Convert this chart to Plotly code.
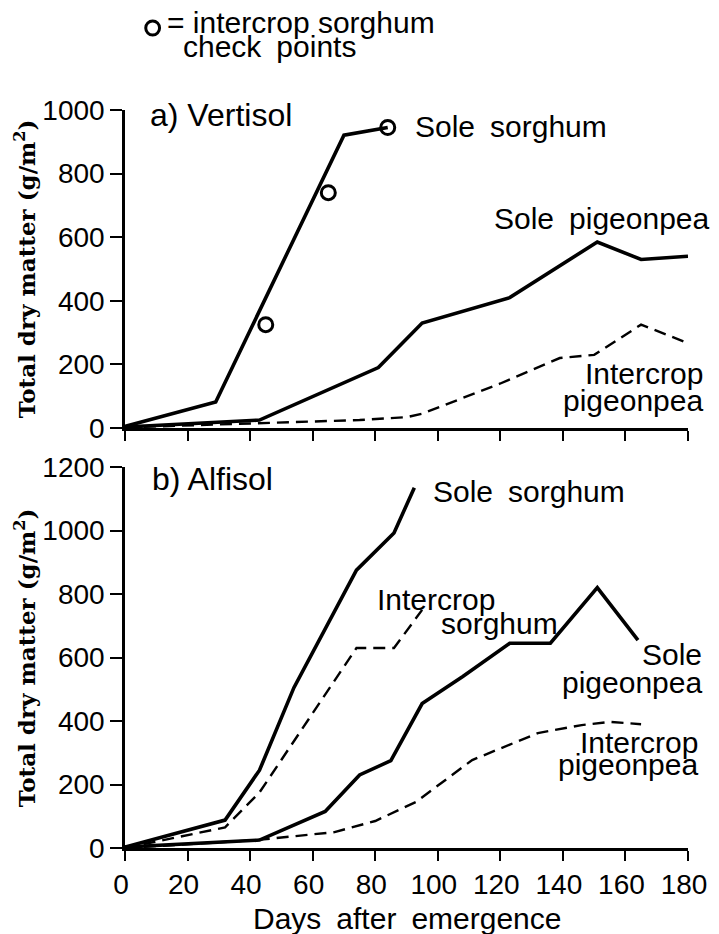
import plotly.graph_objects as go

# ---- Vertisol (panel a) ----
vert_sole_sorghum_days = [0, 29, 70, 84]
vert_sole_sorghum = [5, 82, 921, 945]
vert_check_days = [45, 65, 84]
vert_check = [325, 740, 945]
vert_sole_pp_days = [0, 43, 81, 95, 123, 151, 165, 180]
vert_sole_pp = [3, 25, 190, 330, 410, 585, 530, 540]
vert_inter_pp_days = [0, 20, 45, 75, 90, 95, 120, 139, 150, 165, 180]
vert_inter_pp = [2, 8, 15, 25, 34, 45, 140, 220, 230, 325, 267]

# ---- Alfisol (panel b) ----
alf_sole_sorghum_days = [0, 32, 43, 54, 74, 86, 92.5]
alf_sole_sorghum = [3, 88, 245, 505, 875, 992, 1135]
alf_inter_sorghum_days = [0, 32, 43, 74, 86, 95]
alf_inter_sorghum = [0, 65, 175, 630, 630, 750]
alf_sole_pp_days = [0, 43, 64, 75, 85, 95, 108, 123, 136, 151, 164]
alf_sole_pp = [3, 25, 115, 230, 275, 455, 540, 645, 645, 820, 655]
alf_inter_pp_days = [0, 42, 67, 80, 93, 111, 132, 146, 155, 165]
alf_inter_pp = [0, 25, 50, 85, 145, 277, 362, 387, 397, 390]

x_ticks = [0, 20, 40, 60, 80, 100, 120, 140, 160, 180]

W, H = 719, 934
ML, MR, MT, MB = 125, 24, 110, 86
PW, PH = W - ML - MR, H - MT - MB

SANS = "Liberation Sans, Arial, sans-serif"
SERIF = "DejaVu Serif, serif"
EN = "\u2002"

SOLID = dict(color="black", width=3.6)
DASHED = dict(color="black", width=2.4, dash="12px,7px")


def paper(px, py):
    return (px - ML) / PW, (MT + PH - py) / PH


fig = go.Figure()


def add_line(x, y, line, axis):
    fig.add_trace(go.Scatter(x=x, y=y, mode="lines", line=line,
                             xaxis="x" + axis, yaxis="y" + axis,
                             showlegend=False, hoverinfo="skip"))


add_line(vert_sole_sorghum_days, vert_sole_sorghum, SOLID, "")
add_line(vert_sole_pp_days, vert_sole_pp, SOLID, "")
add_line(vert_inter_pp_days, vert_inter_pp, DASHED, "")
fig.add_trace(go.Scatter(x=vert_check_days, y=vert_check, mode="markers",
                         marker=dict(symbol="circle-open", size=14,
                                     color="black", line=dict(width=3)),
                         showlegend=False, hoverinfo="skip"))

add_line(alf_sole_sorghum_days, alf_sole_sorghum, SOLID, "2")
add_line(alf_inter_sorghum_days, alf_inter_sorghum, DASHED, "2")
add_line(alf_sole_pp_days, alf_sole_pp, SOLID, "2")
add_line(alf_inter_pp_days, alf_inter_pp, DASHED, "2")

axis_common = dict(showgrid=False, zeroline=False, showline=True,
                   linecolor="black", linewidth=2.5, ticks="outside",
                   tickcolor="black", tickwidth=2,
                   tickfont=dict(family=SANS, size=28, color="black"))

top_bottom = (MT + PH - 428) / PH
bot_top = (MT + PH - 467) / PH

fig.update_layout(
    width=W, height=H,
    margin=dict(l=ML, r=MR, t=MT, b=MB),
    paper_bgcolor="white", plot_bgcolor="white",
    xaxis=dict(axis_common, range=[0, 180], tickvals=x_ticks,
               showticklabels=False, ticklen=10, anchor="y",
               domain=[0, 1]),
    yaxis=dict(axis_common, range=[0, 1000], dtick=200, ticklen=12,
               domain=[top_bottom, 1], anchor="x"),
    xaxis2=dict(axis_common, range=[0, 180], tickvals=x_ticks,
                ticklen=10, anchor="y2", domain=[0, 1],
                ticklabelshift=-4),
    yaxis2=dict(axis_common, range=[0, 1200], dtick=200, ticklen=12,
                domain=[0, bot_top], anchor="x2"),
)


def label(text, px, py, anchor="left", size=30, family=SANS, angle=0):
    x, y = paper(px, py)
    fig.add_annotation(text=text, x=x, y=y, xref="paper", yref="paper",
                       xanchor=anchor, yanchor="middle", showarrow=False,
                       textangle=angle,
                       font=dict(family=family, size=size, color="black"))


# y-axis titles
ytitle = "<b>Total dry matter (g/m<sup>2</sup>)</b>"
label(ytitle, 24, 269, anchor="center", size=23, family=SERIF, angle=-90)
label(ytitle, 24, 658, anchor="center", size=23, family=SERIF, angle=-90)

# x-axis title
label("Days" + EN + "after" + EN + "emergence", 411, 919, anchor="center", size=30)

# panel titles
label("a) Vertisol", 148, 115, size=32)
label("b) Alfisol", 150, 479, size=32)

# curve labels, panel a
label("Sole" + EN + "sorghum", 417, 126)
label("Sole" + EN + "pigeonpea", 497, 218)
label("Intercrop", 712, 373, anchor="right")
label("pigeonpea", 712, 400, anchor="right")

# curve labels, panel b
label("Sole" + EN + "sorghum", 435, 491)
label("Intercrop", 378, 599)
label("sorghum", 443, 623)
label("Sole", 711, 654, anchor="right")
label("pigeonpea", 711, 682, anchor="right")
label("Intercrop", 707, 742, anchor="right")
label("pigeonpea", 707, 764, anchor="right")

# key for the check-point symbol
cx, cy = paper(153, 28)
rx, ry = 7 / PW, 7 / PH
fig.add_shape(type="circle", xref="paper", yref="paper",
              x0=cx - rx, x1=cx + rx, y0=cy - ry, y1=cy + ry,
              line=dict(color="black", width=3))
label("= intercrop sorghum", 165, 22)
label("check" + EN + "points", 182, 47)

fig.write_html("out.html")
